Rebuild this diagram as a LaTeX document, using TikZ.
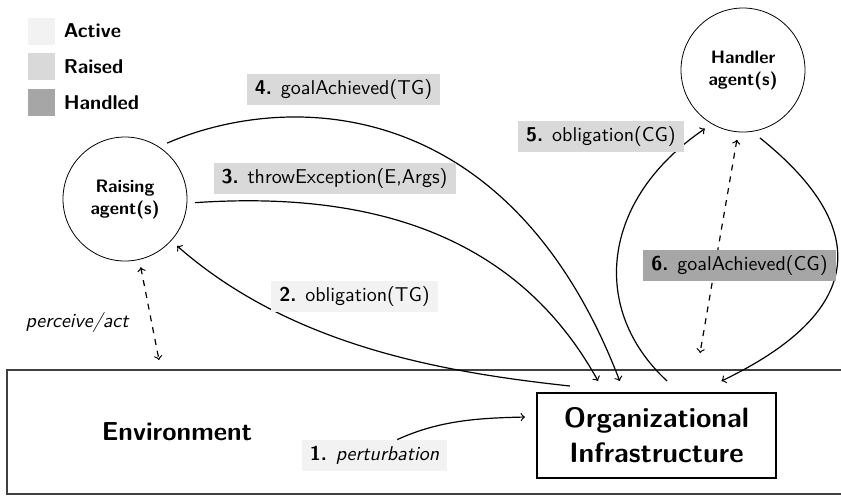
\documentclass[tikz,border=0pt]{standalone}
\usetikzlibrary{positioning}
\renewcommand{\familydefault}{\sfdefault}
\definecolor{activegray}{gray}{0.95}
\definecolor{raisedgray}{gray}{0.85}
\definecolor{handledgray}{gray}{0.65}

\begin{document}
\begin{tikzpicture}[x=0.5pt,y=-0.5pt,
  agent/.style={draw,circle,minimum size=62pt,inner sep=1pt,outer sep=4pt,align=center,font=\small\bfseries},
  keybox/.style={rectangle,minimum size=13.5pt,inner sep=0pt},
  keytext/.style={inner sep=0pt,font=\bfseries},
  msg/.style={rectangle,minimum height=15.5pt,inner xsep=4pt,inner ysep=2pt},
  flow/.style={->,semithick},
  sense/.style={<->,dashed,semithick}
]
\useasboundingbox (0,0) rectangle (841,495);

% legend
\node[keybox,fill=activegray] (kact) at (41.5,31) {};
\node[keybox,fill=raisedgray,below=4pt of kact] (krai) {};
\node[keybox,fill=handledgray,below=4pt of krai] (khan) {};
\node[keytext,right=4pt of kact] (tact) {Active};
\node[keytext,right=4pt of krai] (trai) {Raised};
\node[keytext,right=4pt of khan] (than) {Handled};

% environment
\draw[line width=0.6pt,black!75] (841,370) -- (7,370) -- (7,494) -- (841,494);
\node[font=\fontsize{13}{15}\selectfont\bfseries] (envname) at (177,432) {Environment};
\node[font=\itshape] (pa) at (77,322) {perceive/act};

% agents and organisation
\node[agent] (raise) at (125,199) {Raising\\agent(s)};
\node[agent] (hand) at (743,70) {Handler\\agent(s)};
\node[draw,line width=0.8pt,minimum width=119.5pt,minimum height=42.5pt,outer sep=6pt,
  align=center,font=\fontsize{14}{17.5}\selectfont\bfseries] (org) at (656.5,435.5) {Organizational\\Infrastructure};
\coordinate (envedge) at (159,360);
\coordinate (handfoot) at (700,353);

\node[msg,fill=activegray] (m1) at (374.5,455.5) {\textbf{1.} \textit{perturbation}};

% connectors
\draw[flow] (m1.35) .. controls (440,420) and (480,418) .. (org.172);
\draw[flow] ([shift={(45,5)}]org.north west) .. controls (440,372) and (290,345) .. (raise.-42);
\draw[flow] (raise.-3) .. controls (380,190) and (520,240) .. (org.137);
\draw[flow] (raise.53) .. controls (290,90) and (510,95) .. (org.124);
\draw[flow] (org.79) .. controls (590,310) and (600,200) .. (hand.-123);
\draw[flow] (hand.-76) .. controls (850,210) and (890,300) .. (org.40);
\draw[sense] (raise.-77) -- (envedge);
\draw[sense] (hand.-95) -- (handfoot);

% messages
\node[msg,fill=activegray] (m2) at (354.5,296) {\textbf{2.} obligation(TG)};
\node[msg,fill=raisedgray] (m3) at (334.5,178.5) {\textbf{3.} throwException(E,Args)};
\node[msg,fill=raisedgray] (m4) at (343.5,89.5) {\textbf{4.} goalAchieved(TG)};
\node[msg,fill=raisedgray] (m5) at (601,136) {\textbf{5.} obligation(CG)};
\node[msg,fill=handledgray] (m6) at (739.5,265.5) {\textbf{6.} goalAchieved(CG)};
\end{tikzpicture}
\end{document}
